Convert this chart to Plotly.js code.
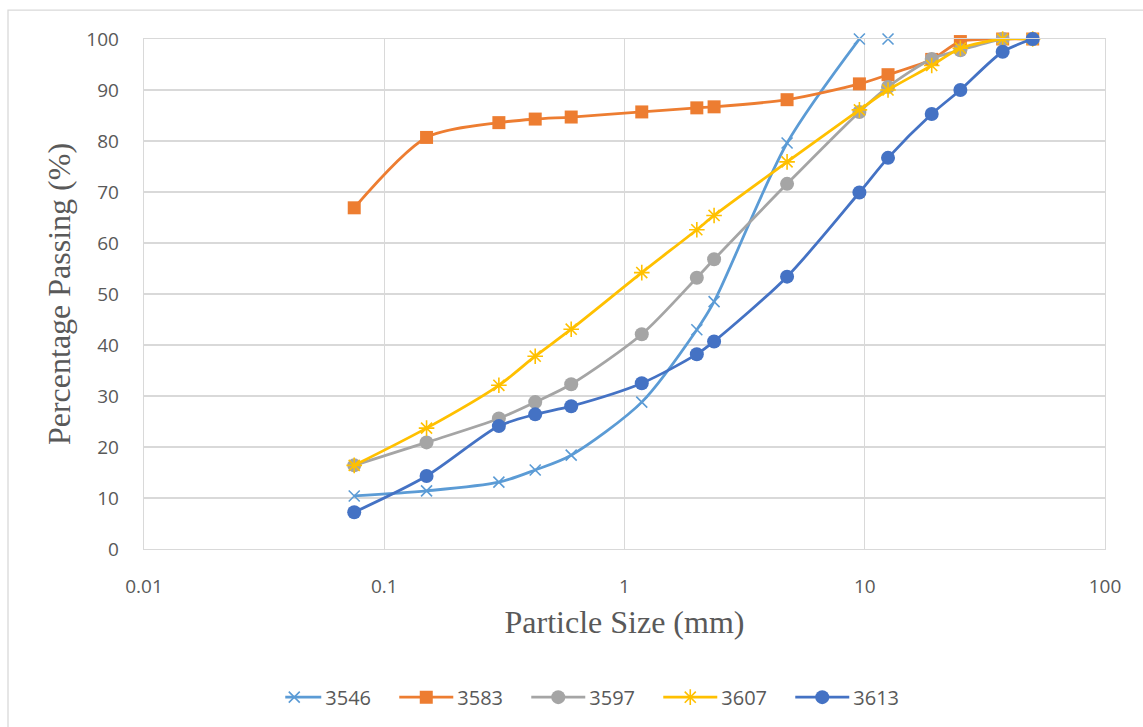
<!DOCTYPE html>
<html>
<head>
<meta charset="utf-8">
<script src="https://cdn.plot.ly/plotly-3.0.1.min.js"></script>
<style>html,body{margin:0;padding:0;background:#fff;}#chart{width:1143px;height:727px;}</style>
</head>
<body>
<div id="chart"></div>
<script>
// Sieve sizes (mm)
const sizes = [0.075, 0.15, 0.3, 0.425, 0.6, 1.18, 2, 2.36, 4.75, 9.5, 12.5, 19, 25, 37.5, 50];

// Percentage passing per sample
const s3546 = [10.4, 11.4, 13.1, 15.5, 18.4, 28.8, 43.0, 48.5, 79.6, 100, 100];
const s3583 = [66.9, 80.7, 83.6, 84.3, 84.7, 85.7, 86.5, 86.7, 88.1, 91.2, 93.0, 96.0, 99.5, 100, 100];
const s3597 = [16.4, 20.9, 25.6, 28.8, 32.3, 42.1, 53.2, 56.8, 71.6, 85.7, 90.6, 96.1, 97.8, 100, 100];
const s3607 = [16.4, 23.7, 32.1, 37.8, 43.1, 54.2, 62.6, 65.4, 75.9, 86.1, 90.0, 94.8, 98.2, 100, 100];
const s3613 = [7.2, 14.3, 24.1, 26.4, 28.0, 32.5, 38.2, 40.7, 53.4, 69.9, 76.7, 85.3, 90.0, 97.5, 100];

const names = ['3546', '3583', '3597', '3607', '3613'];
const colors = ['#5B9BD5', '#ED7D31', '#A5A5A5', '#FFC000', '#4472C4'];

const traces = [];
// 3546: line drawn up to 9.5 mm; the 12.5 mm point is shown as a marker only
const n3546Line = 10;
traces.push({
  x: sizes.slice(0, n3546Line), y: s3546.slice(0, n3546Line), name: names[0],
  type: 'scatter', mode: 'lines+markers', cliponaxis: false,
  line: {color: colors[0], width: 2.8, shape: 'spline', smoothing: 0.8},
  marker: {symbol: 'x-thin-open', size: 11, color: colors[0], line: {color: colors[0], width: 1.6}}
});
traces.push({
  x: sizes.slice(n3546Line, s3546.length), y: s3546.slice(n3546Line), name: names[0],
  type: 'scatter', mode: 'markers', cliponaxis: false, showlegend: false,
  marker: {symbol: 'x-thin-open', size: 11, color: colors[0], line: {color: colors[0], width: 1.6}}
});
traces.push({
  x: sizes, y: s3583, name: names[1], type: 'scatter', mode: 'lines+markers', cliponaxis: false,
  line: {color: colors[1], width: 2.8, shape: 'spline', smoothing: 0.8},
  marker: {symbol: 'square', size: 13, color: colors[1]}
});
traces.push({
  x: sizes, y: s3597, name: names[2], type: 'scatter', mode: 'lines+markers', cliponaxis: false,
  line: {color: colors[2], width: 2.8, shape: 'spline', smoothing: 0.8},
  marker: {symbol: 'circle', size: 14, color: colors[2]}
});
traces.push({
  x: sizes, y: s3607, name: names[3], type: 'scatter', mode: 'lines+markers', cliponaxis: false,
  line: {color: colors[3], width: 2.8, shape: 'spline', smoothing: 0.8},
  marker: {symbol: 'asterisk-open', size: 13, color: colors[3], line: {color: colors[3], width: 1.6}}
});
traces.push({
  x: sizes, y: s3613, name: names[4], type: 'scatter', mode: 'lines+markers', cliponaxis: false,
  line: {color: colors[4], width: 2.8, shape: 'spline', smoothing: 0.8},
  marker: {symbol: 'circle', size: 14, color: colors[4]}
});

const tickFont = {family: 'Open Sans, Liberation Sans, sans-serif', size: 19, color: '#595959'};
const titleFont = {family: 'Liberation Serif, Times New Roman, serif', size: 32, color: '#595959'};

const layout = {
  width: 1143, height: 727,
  margin: {l: 144, r: 38, t: 39, b: 177},
  paper_bgcolor: '#fff', plot_bgcolor: '#fff',
  showlegend: true,
  legend: {orientation: 'h', x: 0.147, xanchor: 'left', y: -0.288, yanchor: 'middle',
           font: {family: 'Open Sans, Liberation Sans, sans-serif', size: 20, color: '#595959'},
           itemwidth: 30, entrywidth: 87, entrywidthmode: 'pixels', tracegroupgap: 0},
  xaxis: {
    type: 'log', range: [-2, 2],
    tickvals: [0.01, 0.1, 1, 10, 100], ticktext: ['0.01', '0.1', '1', '10', '100'],
    showgrid: true, gridcolor: '#D9D9D9', gridwidth: 1.3,
    showline: true, linecolor: '#D9D9D9', linewidth: 1.3, mirror: true,
    ticks: '', tickfont: tickFont, ticklabelstandoff: 20, zeroline: false,
    title: {text: 'Particle Size (mm)', font: titleFont, standoff: 12}
  },
  yaxis: {
    range: [0, 100], dtick: 10, tick0: 0,
    showgrid: true, gridcolor: '#D9D9D9', gridwidth: 1.3,
    showline: true, linecolor: '#D9D9D9', linewidth: 1.3, mirror: true,
    ticks: '', tickfont: tickFont, ticklabelstandoff: 20, zeroline: false,
    title: {text: 'Percentage Passing (%)', font: titleFont, standoff: 6}
  },
  shapes: [{
    type: 'rect', xref: 'paper', yref: 'paper',
    x0: (8 - 144) / 961, x1: (1150 - 144) / 961,
    y0: -(740 - 550) / 511, y1: 1 + (39 - 10) / 511,
    line: {color: '#D9D9D9', width: 1.3}, fillcolor: 'rgba(0,0,0,0)', layer: 'below'
  }]
};

// Lengthen legend sample lines to match the original (Excel-style) legend
function fixLegend(gd) {
  gd.querySelectorAll('.legend .legendlines path').forEach(function (p) {
    if (p.getAttribute('d') !== 'M-18,0h54') p.setAttribute('d', 'M-18,0h54');
  });
  gd.querySelectorAll('.legend .legendpoints path.scatterpts').forEach(function (p) {
    if (p.getAttribute('transform') !== 'translate(9,0)') p.setAttribute('transform', 'translate(9,0)');
  });
}

Plotly.newPlot('chart', traces, layout, {displayModeBar: false, staticPlot: true}).then(function (gd) {
  fixLegend(gd);
  gd.on('plotly_afterplot', function () { fixLegend(gd); });
  const obs = new MutationObserver(function () { fixLegend(gd); });
  obs.observe(gd, {subtree: true, attributes: true, childList: true});
  setTimeout(function () { fixLegend(gd); }, 50);
  setTimeout(function () { fixLegend(gd); }, 400);
});
</script>
</body>
</html>
